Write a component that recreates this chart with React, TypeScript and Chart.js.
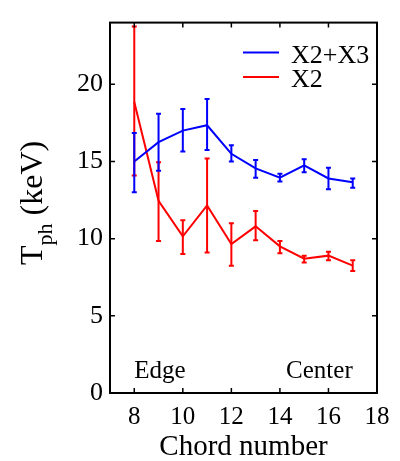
import React, { useEffect, useRef } from "react";
import { Chart, registerables } from "chart.js";

Chart.register(...registerables);

const chords = [8, 9, 10, 11, 12, 13, 14, 15, 16, 17];
const blueY = [15.0, 16.25, 17.0, 17.35, 15.5, 14.55, 13.95, 14.75, 13.9, 13.65];
const blueLo = [13.0, 14.4, 15.65, 15.75, 15.0, 13.95, 13.7, 14.3, 13.2, 13.3];
const blueHi = [16.85, 18.1, 18.4, 19.05, 16.05, 15.1, 14.2, 15.15, 14.6, 13.9];
const redY = [18.85, 12.45, 10.15, 12.15, 9.65, 10.8, 9.5, 8.7, 8.9, 8.25];
const redLo = [14.1, 9.85, 9.0, 9.1, 8.25, 9.9, 9.05, 8.45, 8.6, 7.9];
const redHi = [23.75, 14.95, 11.2, 15.2, 11.0, 11.8, 9.85, 8.9, 9.15, 8.6];
const xTicks = [8, 10, 12, 14, 16, 18];
const yTicks = [0, 5, 10, 15, 20];
const seriesNames = ["X2+X3", "X2"];
const seriesColors = ["#0000ff", "#ff0000"];

const FONT = "'Liberation Serif', 'DejaVu Serif', serif";

const overlayPlugin = {
  id: "overlay",
  afterDatasetsDraw(chart: any) {
    const ctx = chart.ctx;
    const xs = chart.scales.x;
    const ys = chart.scales.y;
    const sets = [
      { lo: redLo, hi: redHi, color: seriesColors[1] },
      { lo: blueLo, hi: blueHi, color: seriesColors[0] },
    ];
    ctx.save();
    ctx.lineWidth = 2;
    for (const s of sets) {
      ctx.strokeStyle = s.color;
      chords.forEach((c, i) => {
        const px = xs.getPixelForValue(c);
        const pl = ys.getPixelForValue(s.lo[i]);
        const ph = ys.getPixelForValue(s.hi[i]);
        ctx.beginPath();
        ctx.moveTo(px, pl);
        ctx.lineTo(px, ph);
        ctx.moveTo(px - 2.5, pl);
        ctx.lineTo(px + 2.5, pl);
        ctx.moveTo(px - 2.5, ph);
        ctx.lineTo(px + 2.5, ph);
        ctx.stroke();
      });
    }
    ctx.restore();
  },
  afterDraw(chart: any) {
    const ctx = chart.ctx;
    const xs = chart.scales.x;
    const ys = chart.scales.y;
    const a = chart.chartArea;
    ctx.save();
    ctx.strokeStyle = "#000";
    ctx.lineWidth = 2;
    ctx.strokeRect(a.left, a.top, a.right - a.left, a.bottom - a.top);
    ctx.lineWidth = 1.5;
    ctx.beginPath();
    for (const v of xTicks) {
      const px = xs.getPixelForValue(v);
      ctx.moveTo(px, a.bottom);
      ctx.lineTo(px, a.bottom - 5);
      ctx.moveTo(px, a.top);
      ctx.lineTo(px, a.top + 5);
    }
    for (const v of yTicks) {
      const py = ys.getPixelForValue(v);
      ctx.moveTo(a.left, py);
      ctx.lineTo(a.left + 5, py);
      ctx.moveTo(a.right, py);
      ctx.lineTo(a.right - 5, py);
    }
    ctx.stroke();

    // legend
    ctx.lineWidth = 2;
    ctx.font = `26px ${FONT}`;
    ctx.fillStyle = "#000";
    ctx.textAlign = "left";
    ctx.textBaseline = "alphabetic";
    seriesNames.forEach((n, i) => {
      const ly = a.top + 30 + i * 24.5;
      ctx.strokeStyle = seriesColors[i];
      ctx.beginPath();
      ctx.moveTo(a.right - 134, ly);
      ctx.lineTo(a.right - 98, ly);
      ctx.stroke();
      ctx.fillText(n, a.right - 86, ly + 10);
    });

    // annotations
    ctx.font = `25px ${FONT}`;
    ctx.textAlign = "left";
    ctx.fillText("Edge", xs.getPixelForValue(8), ys.getPixelForValue(1));
    ctx.textAlign = "right";
    ctx.fillText("Center", xs.getPixelForValue(17), ys.getPixelForValue(1));

    // x title
    ctx.textAlign = "center";
    ctx.font = `29px ${FONT}`;
    ctx.fillText("Chord number", (a.left + a.right) / 2, 455);

    // y title with subscript
    ctx.translate(42, 265);
    ctx.rotate(-Math.PI / 2);
    ctx.textAlign = "left";
    ctx.font = `32px ${FONT}`;
    ctx.fillText("T", 0, 0);
    let x = ctx.measureText("T").width;
    ctx.font = `22px ${FONT}`;
    ctx.fillText("ph", x, 10);
    x += ctx.measureText("ph").width;
    ctx.font = `32px ${FONT}`;
    ctx.fillText(" (keV)", x, 0);
    ctx.restore();
  },
};

export default function App() {
  const ref = useRef<HTMLCanvasElement | null>(null);
  useEffect(() => {
    document.body.style.margin = "0";
    if (!ref.current) return;
    const chart = new Chart(ref.current, {
      type: "line",
      data: {
        datasets: [
          {
            label: seriesNames[0],
            data: chords.map((c, i) => ({ x: c, y: blueY[i] })),
            borderColor: seriesColors[0],
            borderWidth: 2,
            pointRadius: 0,
            tension: 0,
          },
          {
            label: seriesNames[1],
            data: chords.map((c, i) => ({ x: c, y: redY[i] })),
            borderColor: seriesColors[1],
            borderWidth: 2,
            pointRadius: 0,
            tension: 0,
          },
        ],
      },
      options: {
        animation: false,
        responsive: false,
        layout: { padding: { left: 0, top: 12, right: 23, bottom: 0 } },
        plugins: { legend: { display: false }, tooltip: { enabled: false } },
        scales: {
          x: {
            type: "linear",
            min: 7,
            max: 18,
            grid: { display: false, drawTicks: false },
            border: { display: false },
            afterBuildTicks: (s: any) => {
              s.ticks = xTicks.map((v) => ({ value: v }));
            },
            afterFit: (s: any) => {
              s.height = 68;
            },
            ticks: {
              autoSkip: false,
              maxRotation: 0,
              padding: 9,
              color: "#000",
              font: { family: FONT, size: 25 },
            },
          },
          y: {
            type: "linear",
            min: 0,
            max: 24,
            grid: { display: false, drawTicks: false },
            border: { display: false },
            afterBuildTicks: (s: any) => {
              s.ticks = yTicks.map((v) => ({ value: v }));
            },
            afterFit: (s: any) => {
              s.width = 110;
            },
            ticks: {
              autoSkip: false,
              padding: 7,
              color: "#000",
              font: { family: FONT, size: 26 },
            },
          },
        },
      },
      plugins: [overlayPlugin],
    });
    return () => chart.destroy();
  }, []);
  return (
    <div style={{ width: 400, height: 461 }}>
      <canvas ref={ref} width={400} height={461} />
    </div>
  );
}
